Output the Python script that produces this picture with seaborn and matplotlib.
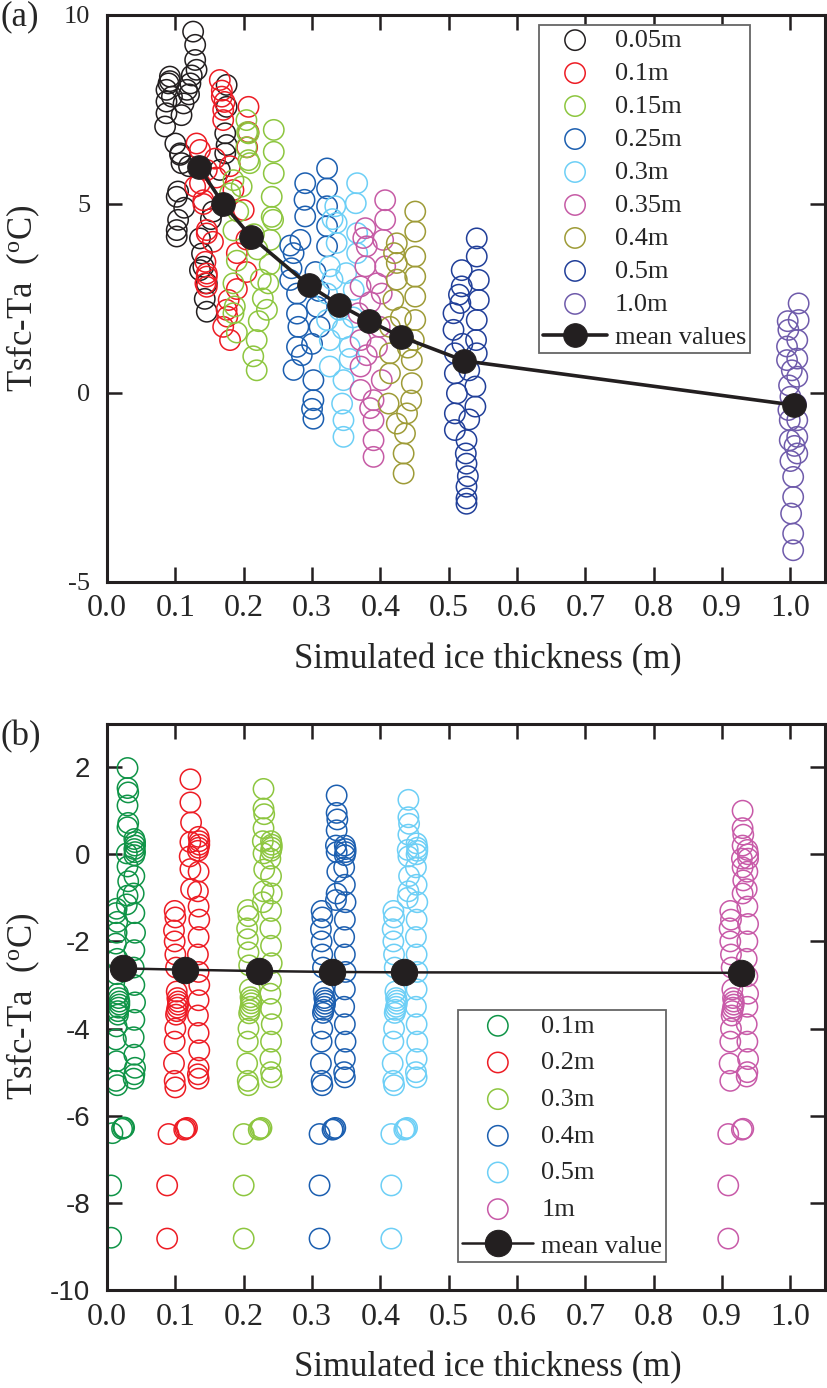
import numpy as np
import pandas as pd
import seaborn as sns
import matplotlib
matplotlib.use("Agg")
from matplotlib import pyplot as plt

# ---------------- panel (a) data ----------------
a_labels = ["0.05m", "0.1m", "0.15m", "0.25m", "0.3m", "0.35m", "0.4m", "0.5m", "1.0m"]
a_colors = ["#231f20", "#ed1c24", "#8dc63f", "#1c5fb0", "#6dcff6",
            "#c65ba5", "#9e9b37", "#213f99", "#6f5bab"]

a005_x = [0.126, 0.129, 0.129, 0.131, 0.124, 0.122, 0.117, 0.120, 0.092, 0.090, 0.087,
          0.095, 0.087, 0.087, 0.085, 0.092, 0.112, 0.109, 0.100, 0.107, 0.109, 0.104,
          0.102, 0.104, 0.102, 0.102, 0.107, 0.175, 0.175, 0.173, 0.173, 0.175, 0.165,
          0.152, 0.155, 0.136, 0.139, 0.141, 0.146, 0.143, 0.146, 0.136, 0.120, 0.113]
a005_y = [9.56, 9.21, 8.81, 8.55, 8.40, 8.19, 8.02, 7.90, 8.37, 8.19, 8.02,
          7.84, 7.71, 7.40, 7.05, 8.25, 7.66, 7.35, 6.60, 6.34, 6.08, 5.33,
          5.19, 4.58, 4.31, 4.14, 6.30, 8.15, 7.57, 6.87, 6.34, 6.56, 5.90,
          4.60, 4.80, 4.09, 3.69, 3.34, 2.90, 2.49, 2.15, 3.25, 6.00, 4.90]

a01_x = [0.165, 0.168, 0.170, 0.170, 0.168, 0.172, 0.207, 0.207, 0.205, 0.131, 0.136,
         0.146, 0.129, 0.141, 0.146, 0.136, 0.141, 0.146, 0.144, 0.146, 0.144, 0.146,
         0.146, 0.178, 0.176, 0.180, 0.175, 0.170, 0.185, 0.200, 0.204, 0.204, 0.190,
         0.158, 0.160, 0.155, 0.180, 0.190]
a01_y = [8.28, 7.84, 7.49, 7.22, 8.00, 7.70, 7.57, 6.90, 6.50, 6.60, 6.43,
         5.90, 5.46, 5.10, 4.31, 5.55, 5.00, 4.22, 3.47, 3.16, 2.90, 3.08,
         2.81, 2.46, 2.02, 1.40, 2.20, 1.75, 5.37, 4.84, 4.06, 3.20, 2.75,
         6.20, 5.70, 4.00, 6.00, 3.70]

a015_x = [0.204, 0.207, 0.204, 0.207, 0.209, 0.205, 0.244, 0.244, 0.244, 0.241, 0.241,
          0.243, 0.239, 0.236, 0.234, 0.238, 0.185, 0.180, 0.197, 0.192, 0.185, 0.185,
          0.187, 0.185, 0.190, 0.190, 0.219, 0.219, 0.214, 0.222, 0.225, 0.220, 0.228,
          0.215]
a015_y = [7.22, 6.87, 6.50, 6.16, 6.08, 6.90, 6.96, 6.38, 5.81, 5.19, 4.66,
          4.58, 4.05, 2.90, 2.20, 3.40, 5.63, 5.28, 5.46, 4.80, 4.30, 2.90,
          2.29, 2.11, 3.50, 1.60, 1.40, 0.60, 0.97, 1.90, 3.00, 3.80, 2.50,
          4.20]

a025_x = [0.322, 0.322, 0.290, 0.289, 0.290, 0.283, 0.273, 0.268, 0.278, 0.278, 0.280,
          0.278, 0.273, 0.302, 0.302, 0.302, 0.300, 0.307, 0.311, 0.322, 0.322, 0.322,
          0.270, 0.285, 0.305, 0.310, 0.300, 0.268]
a025_y = [5.94, 5.41, 5.55, 5.11, 4.67, 4.05, 3.70, 2.99, 2.63, 2.10, 1.75,
          1.22, 0.61, 0.34, -0.19, -0.68, -0.42, 2.28, 1.75, 4.94, 4.41, 3.88,
          3.30, 1.00, 3.20, 2.70, 1.30, 3.90]

a03_x = [0.366, 0.364, 0.334, 0.336, 0.336, 0.326, 0.322, 0.322, 0.326, 0.326, 0.346,
         0.344, 0.346, 0.346, 0.355, 0.350, 0.366, 0.366, 0.361, 0.330, 0.340, 0.345,
         0.355, 0.330, 0.360]
a03_y = [5.55, 5.02, 4.94, 4.50, 3.97, 3.35, 2.63, 1.93, 1.40, 0.70, 0.34,
         -0.28, -0.72, -1.16, 1.22, 3.17, 4.23, 3.70, 2.73, 4.60, 2.20, 1.70,
         0.90, 3.00, 2.00]

a035_x = [0.407, 0.407, 0.378, 0.380, 0.378, 0.371, 0.368, 0.371, 0.371, 0.371, 0.390,
          0.390, 0.390, 0.390, 0.404, 0.407, 0.402, 0.399, 0.395, 0.402, 0.375, 0.385,
          0.380, 0.385, 0.395]
a035_y = [5.10, 4.58, 4.36, 3.88, 3.35, 2.82, 2.11, 1.40, 0.70, 0.08, -0.19,
          -0.72, -1.25, -1.69, 4.05, 3.35, 2.63, 1.75, 1.22, 0.34, 4.10, 2.40,
          1.00, -0.40, 2.90]

a04_x = [0.451, 0.451, 0.451, 0.451, 0.451, 0.451, 0.449, 0.446, 0.446, 0.439, 0.436,
         0.434, 0.434, 0.424, 0.424, 0.424, 0.419, 0.414, 0.414, 0.414, 0.412, 0.424,
         0.430, 0.440, 0.420, 0.445]
a04_y = [4.80, 4.27, 3.61, 3.08, 2.55, 1.93, 1.40, 0.87, 0.26, -0.54, -1.07,
         -1.60, -2.13, 3.96, 3.44, 3.00, 2.46, 1.75, 1.05, 0.52, -0.28, -0.81,
         2.00, 1.20, 3.70, -0.20]

a05_x = [0.541, 0.541, 0.544, 0.544, 0.541, 0.519, 0.519, 0.517, 0.507, 0.507, 0.540,
         0.509, 0.541, 0.509, 0.512, 0.539, 0.539, 0.509, 0.509, 0.526, 0.526, 0.526,
         0.526, 0.526, 0.515, 0.520, 0.530, 0.530, 0.525, 0.528]
a05_y = [4.09, 3.61, 2.99, 2.46, 1.93, 3.25, 2.82, 2.38, 2.11, 1.67, 1.40,
         1.05, 1.05, 0.52, -0.01, 0.17, -0.36, -0.54, -0.98, -1.25, -1.87, -2.48,
         -2.79, -2.93, 2.60, 1.30, 0.60, -0.70, -1.60, -2.20]

a10_x = [1.012, 1.012, 1.010, 1.010, 1.010, 0.997, 0.995, 0.995, 1.010, 1.010, 1.010,
         0.999, 0.999, 1.004, 1.004, 1.001, 1.004, 1.004, 0.998, 1.000, 1.008, 0.996,
         1.000, 1.006, 0.997, 1.002]
a10_y = [2.37, 1.93, 1.40, 0.91, 0.43, 1.67, 1.23, 0.87, -0.72, -1.16, -1.60,
         -0.72, -1.25, -2.22, -2.75, -3.19, -3.72, -4.16, 0.20, -0.10, -0.30, 1.90,
         -1.80, -1.40, -0.45, 0.60]

a_mean_x = [0.134, 0.170, 0.211, 0.295, 0.340, 0.384, 0.430, 0.523, 1.005]
a_mean_y = [5.99, 5.00, 4.13, 2.85, 2.33, 1.90, 1.49, 0.85, -0.32]

# ---------------- panel (b) data ----------------
b_labels = ["0.1m", "0.2m", "0.3m", "0.4m", "0.5m", "1m"]
b_colors = ["#0f9447", "#ed1c24", "#8dc63f", "#1c5fb0", "#6dcff6", "#c85aa8"]

b01_x = [0.030, 0.030, 0.031, 0.030, 0.031, 0.030, 0.029, 0.030, 0.031, 0.030, 0.029,
         0.040, 0.041, 0.041, 0.040, 0.041, 0.040, 0.040, 0.039, 0.040, 0.041, 0.040,
         0.039, 0.040, 0.041, 0.040, 0.039, 0.040, 0.041, 0.040, 0.039,
         0.014, 0.013, 0.015, 0.014, 0.013, 0.015, 0.014, 0.016, 0.017, 0.018, 0.018,
         0.017, 0.016, 0.016, 0.014, 0.013, 0.014, 0.013, 0.015,
         0.008, 0.022, 0.024, 0.025, 0.006, 0.006]
b01_y = [1.98, 1.52, 1.42, 1.12, 0.72, 0.62, 0.02, -0.28, -0.62, -0.95, -1.15,
         0.35, 0.28, 0.20, 0.12, 0.05, -0.02, -0.50, -0.90, -1.35, -1.80, -2.20,
         -2.60, -3.00, -3.40, -3.80, -4.20, -4.60, -4.90, -5.05, -5.15,
         -1.25, -1.35, -1.55, -1.80, -2.05, -2.40, -2.75, -3.20, -3.30, -3.38, -3.45,
         -3.52, -3.60, -3.68, -3.95, -4.25, -4.75, -5.20, -5.30,
         -6.40, -6.30, -6.28, -6.27, -7.60, -8.80]

b02_x = [0.122, 0.122, 0.123, 0.122, 0.121, 0.122, 0.123,
         0.134, 0.135, 0.135, 0.134, 0.133, 0.134, 0.133, 0.134, 0.135, 0.134, 0.133,
         0.134, 0.135, 0.134, 0.133, 0.134, 0.135, 0.134, 0.133, 0.134,
         0.099, 0.100, 0.098, 0.099, 0.100, 0.101, 0.102, 0.103, 0.104, 0.104, 0.103,
         0.102, 0.101, 0.100, 0.099, 0.098, 0.099, 0.100,
         0.090, 0.113, 0.115, 0.117, 0.088, 0.088]
b02_y = [1.72, 1.19, 0.73, 0.28, -0.05, -0.34, -0.80,
         0.40, 0.30, 0.22, 0.15, 0.08, -0.40, -0.85, -1.20, -1.50, -1.90, -2.30,
         -2.70, -3.00, -3.35, -3.70, -4.10, -4.50, -4.90, -5.05, -5.15,
         -1.30, -1.45, -1.75, -2.00, -2.30, -2.60, -3.15, -3.30, -3.38, -3.45, -3.52,
         -3.60, -3.68, -4.00, -4.30, -4.80, -5.20, -5.35,
         -6.42, -6.32, -6.30, -6.28, -7.60, -8.82]

b03_x = [0.229, 0.229, 0.230, 0.229, 0.228, 0.229, 0.230, 0.229, 0.228,
         0.240, 0.241, 0.241, 0.240, 0.239, 0.240, 0.241, 0.240, 0.239, 0.240, 0.241,
         0.240, 0.239, 0.240, 0.241, 0.240, 0.239, 0.240, 0.241,
         0.206, 0.207, 0.205, 0.206, 0.207, 0.208, 0.209, 0.210, 0.211, 0.211, 0.210,
         0.209, 0.208, 0.207, 0.206, 0.205, 0.206, 0.207,
         0.200, 0.222, 0.224, 0.226, 0.200, 0.200]
b03_y = [1.50, 1.05, 0.92, 0.60, 0.30, 0.02, -0.35, -0.85, -1.10,
         0.30, 0.22, 0.15, 0.08, -0.10, -0.50, -0.90, -1.30, -1.70, -2.10, -2.50,
         -2.90, -3.20, -3.55, -3.90, -4.30, -4.70, -5.00, -5.12,
         -1.28, -1.42, -1.70, -1.95, -2.25, -2.55, -3.10, -3.28, -3.35, -3.42, -3.50,
         -3.58, -3.65, -4.00, -4.30, -4.80, -5.20, -5.30,
         -6.42, -6.32, -6.30, -6.28, -7.60, -8.82]

b04_x = [0.336, 0.336, 0.337, 0.336, 0.335, 0.336, 0.337, 0.336, 0.335,
         0.348, 0.349, 0.349, 0.348, 0.347, 0.348, 0.349, 0.348, 0.347, 0.348, 0.349,
         0.348, 0.347, 0.348, 0.349, 0.348, 0.347, 0.348,
         0.314, 0.315, 0.313, 0.314, 0.315, 0.316, 0.317, 0.318, 0.319, 0.319, 0.318,
         0.317, 0.316, 0.315, 0.314, 0.313, 0.314, 0.315,
         0.311, 0.330, 0.332, 0.334, 0.311, 0.311]
b04_y = [1.35, 0.95, 0.80, 0.55, 0.20, 0.05, -0.40, -0.90, -1.05,
         0.20, 0.12, 0.05, -0.02, -0.30, -0.70, -1.10, -1.50, -1.90, -2.30, -2.70,
         -3.10, -3.50, -3.90, -4.30, -4.70, -5.00, -5.12,
         -1.30, -1.45, -1.72, -2.00, -2.30, -2.60, -3.15, -3.30, -3.36, -3.43, -3.50,
         -3.57, -3.64, -4.00, -4.30, -4.80, -5.20, -5.30,
         -6.42, -6.32, -6.30, -6.28, -7.60, -8.82]

b05_x = [0.441, 0.441, 0.442, 0.441, 0.440, 0.441, 0.442, 0.441, 0.440,
         0.453, 0.454, 0.454, 0.453, 0.452, 0.453, 0.454, 0.453, 0.452, 0.453, 0.454,
         0.453, 0.452, 0.453, 0.454, 0.453, 0.452, 0.453,
         0.419, 0.420, 0.418, 0.419, 0.420, 0.421, 0.422, 0.423, 0.424, 0.424, 0.423,
         0.422, 0.421, 0.420, 0.419, 0.418, 0.419, 0.420,
         0.416, 0.435, 0.437, 0.439, 0.416, 0.416]
b05_y = [1.25, 0.85, 0.70, 0.45, 0.10, -0.05, -0.50, -0.85, -1.00,
         0.25, 0.15, 0.08, 0.00, -0.30, -0.70, -1.10, -1.50, -1.90, -2.30, -2.70,
         -3.10, -3.50, -3.90, -4.30, -4.70, -5.00, -5.12,
         -1.30, -1.45, -1.72, -2.00, -2.30, -2.60, -3.15, -3.30, -3.36, -3.43, -3.50,
         -3.57, -3.64, -4.00, -4.30, -4.80, -5.20, -5.30,
         -6.42, -6.32, -6.30, -6.28, -7.60, -8.82]

b10_x = [0.930, 0.930, 0.931, 0.930, 0.929, 0.930, 0.931, 0.930,
         0.937, 0.938, 0.938, 0.937, 0.936, 0.937, 0.938, 0.937, 0.936, 0.937, 0.938,
         0.937, 0.936, 0.937, 0.938, 0.937, 0.936,
         0.912, 0.913, 0.911, 0.912, 0.913, 0.914, 0.915, 0.916, 0.917, 0.917, 0.916,
         0.915, 0.914, 0.913, 0.912, 0.911, 0.912,
         0.909, 0.929, 0.931, 0.909, 0.909]
b10_y = [1.00, 0.60, 0.45, 0.20, -0.10, -0.30, -0.60, -0.90,
         0.10, 0.00, -0.10, -0.40, -0.80, -1.20, -1.60, -2.00, -2.40, -2.80, -3.20,
         -3.50, -3.90, -4.30, -4.70, -5.00, -5.10,
         -1.30, -1.50, -1.70, -2.00, -2.30, -2.60, -3.10, -3.30, -3.38, -3.45, -3.52,
         -3.60, -3.70, -4.00, -4.30, -4.80, -5.20,
         -6.42, -6.32, -6.30, -7.60, -8.82]

b_mean_x = [0.024, 0.114, 0.223, 0.329, 0.435, 0.927]
b_mean_y = [-2.62, -2.65, -2.68, -2.70, -2.71, -2.72]


def long_table(labels, xs, ys):
    frames = []
    for lab, x, y in zip(labels, xs, ys):
        frames.append(pd.DataFrame({"x": x, "y": y, "group": lab}))
    return pd.concat(frames, ignore_index=True)


df_a = long_table(a_labels,
                  [a005_x, a01_x, a015_x, a025_x, a03_x, a035_x, a04_x, a05_x, a10_x],
                  [a005_y, a01_y, a015_y, a025_y, a03_y, a035_y, a04_y, a05_y, a10_y])
df_b = long_table(b_labels,
                  [b01_x, b02_x, b03_x, b04_x, b05_x, b10_x],
                  [b01_y, b02_y, b03_y, b04_y, b05_y, b10_y])

sns.set_style("ticks")
plt.rcParams["font.family"] = ["Liberation Serif", "DejaVu Serif"]
plt.rcParams["mathtext.fontset"] = "custom"
plt.rcParams["mathtext.rm"] = "Liberation Serif"
plt.rcParams["axes.unicode_minus"] = False

fig = plt.figure(figsize=(8.27, 13.88), dpi=100)
ax_a = fig.add_axes([0.1294, 0.5807, 0.8677, 0.4085])
ax_b = fig.add_axes([0.1294, 0.0706, 0.8677, 0.4081])

mean_color = "#231f20"


def draw_panel(ax, df, labels, colors, mean_x, mean_y, mean_label, line_w, dot_size):
    for lab, col in zip(labels, colors):
        sub = df[df["group"] == lab]
        sns.scatterplot(data=sub, x="x", y="y", ax=ax, color=col,
                        facecolor="none", edgecolor=col, linewidth=1.1,
                        s=215, marker="o", label=lab, zorder=2, clip_on=True)
    sns.lineplot(x=mean_x, y=mean_y, ax=ax, color=mean_color, lw=line_w,
                 marker="o", markersize=dot_size, markeredgecolor=mean_color,
                 markerfacecolor=mean_color, label=mean_label, zorder=5)


draw_panel(ax_a, df_a, a_labels, a_colors, a_mean_x, a_mean_y, "mean values", 2.6, 17)
draw_panel(ax_b, df_b, b_labels, b_colors, b_mean_x, b_mean_y, "mean value", 1.8, 19)

ylabel = "Tsfc-Ta  ($\\mathrm{^{o}}$C)"
for ax in (ax_a, ax_b):
    ax.set_xlim(0, 1.05)
    ax.set_xticks(np.arange(0, 1.01, 0.1))
    ax.set_xticklabels([f"{v:.1f}" for v in np.arange(0, 1.01, 0.1)])
    ax.tick_params(axis="both", which="major", direction="in", top=True, right=True,
                   length=11, width=1.8, color="#231f20")
    ax.tick_params(axis="x", labelsize=23, pad=9)
    ax.tick_params(axis="y", pad=12)
    for sp in ax.spines.values():
        sp.set_linewidth(2.2)
        sp.set_color("#231f20")
    ax.set_xlabel("Simulated ice thickness (m)", fontsize=25, va="center")
    ax.xaxis.set_label_coords(0.53, -0.1376)
    ax.set_ylabel(ylabel, fontsize=25, va="center")
    ax.yaxis.set_label_coords(-0.116, 0.5)
    ax.grid(False)

ax_a.set_ylim(-5, 10)
ax_a.set_yticks([-5, 0, 5, 10])
ax_a.set_yticklabels(["-5", "0", "5", "10"])
ax_a.tick_params(axis="y", labelsize=19)

ax_b.set_ylim(-10, 3)
ax_b.set_yticks(np.arange(-10, 3, 2))
ax_b.set_yticklabels([str(v) for v in range(-10, 3, 2)])
ax_b.tick_params(axis="y", labelsize=20)
for t in ax_b.get_yticklabels():
    t.set_fontfamily("Liberation Sans")

# legends
h, l = ax_a.get_legend_handles_labels()
leg_a = ax_a.legend(h, l, loc="upper left", bbox_to_anchor=(0.6026, 0.983),
                    fontsize=19, frameon=True, fancybox=False, framealpha=1,
                    edgecolor="#666666", borderpad=0.15, borderaxespad=0,
                    labelspacing=0.36, handlelength=2.4, handletextpad=0.3)
leg_a.get_frame().set_linewidth(1.3)

h, l = ax_b.get_legend_handles_labels()
leg_b = ax_b.legend(h, l, loc="lower left", bbox_to_anchor=(0.4895, 0.05),
                    fontsize=19, frameon=True, fancybox=False, framealpha=1,
                    edgecolor="#666666", borderpad=0.15, borderaxespad=0,
                    labelspacing=0.5, handlelength=2.7, handletextpad=0.3)
leg_b.get_frame().set_linewidth(1.3)

fig.text(0.0, 1 - 17 / 1388, "(a)", fontsize=25, ha="left", va="center")
fig.text(0.0, 1 - 737 / 1388, "(b)", fontsize=25, ha="left", va="center")

fig.savefig("out.png", dpi=100)
